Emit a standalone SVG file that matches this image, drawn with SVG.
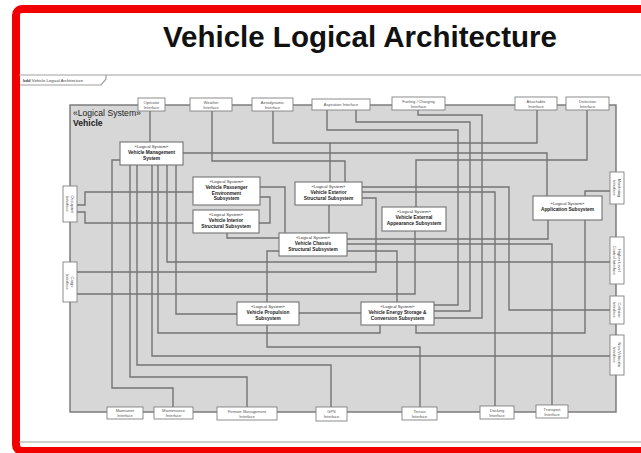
<svg xmlns="http://www.w3.org/2000/svg" width="641" height="453" viewBox="0 0 641 453">
<style>
  text{font-family:"Liberation Sans",Arial,sans-serif}
  .title{font-size:29.5px;font-weight:bold;fill:#111;text-anchor:middle}
  .frame{fill:none;stroke:#a0a0a0;stroke-width:1.2}
  .blk{fill:#d7d7d7;stroke:#747474;stroke-width:1.4}
  .box{fill:#fff;stroke:#747474;stroke-width:1.1}
  .ifc{fill:#fff;stroke:#808080;stroke-width:0.9}
  .st{font-size:4.3px;fill:#333;text-anchor:middle}
  .nm{font-size:4.8px;font-weight:bold;fill:#1a1a1a;text-anchor:middle}
  .it{font-size:4px;fill:#555;text-anchor:middle}
  .cn{fill:none;stroke:#747474;stroke-width:1.4}
</style>

<rect width="641" height="453" fill="#fff"/>
<rect x="16" y="9" width="650" height="442" rx="6" fill="none" stroke="#f20000" stroke-width="8"/>

<text class="title" x="360" y="47">Vehicle Logical Architecture</text>

<!-- bdd frame -->
<line class="frame" x1="19" y1="75" x2="641" y2="75"/>
<line class="frame" x1="19" y1="442" x2="641" y2="442"/>
<path class="frame" d="M20 85 H101 L106 79 V75" stroke-width="0.8"/>
<text x="23" y="82" font-size="4.2" fill="#444"><tspan font-weight="bold">bdd</tspan> Vehicle Logical Architecture</text>

<!-- Vehicle block -->
<g id="vehicle">
  <rect class="blk" x="70" y="105" width="546" height="307"/>
  <text x="73" y="116" font-size="8.6" fill="#222">«Logical System»</text>
  <text x="73" y="126" font-size="8.6" font-weight="bold" fill="#222">Vehicle</text>
</g>

<g id="connectors">
  <!-- Vehicle Management System -->
  <polyline class="cn" points="150,111 150,142"/>
  <polyline class="cn" points="120,160 112,160 112,388 173,388 173,407"/>
  <polyline class="cn" points="130,165 130,377 247,377 247,407"/>
  <polyline class="cn" points="137,165 137,365 331,365 331,407"/>
  <polyline class="cn" points="152,165 152,356 610,356"/>
  <polyline class="cn" points="158,165 158,333 380,333 380,325"/>
  <polyline class="cn" points="167,165 167,262 610,262"/>
  <polyline class="cn" points="176,165 176,314 237,314"/>
  <polyline class="cn" points="183,153 547,153 547,196"/>
  <!-- top interfaces -->
  <polyline class="cn" points="212,111 212,161 345,161 345,182"/>
  <polyline class="cn" points="273,111 273,143 330,143 330,182"/>
  <polyline class="cn" points="537,110 537,143 330,143"/>
  <polyline class="cn" points="587,110 587,160 416,160 416,207"/>
  <polyline class="cn" points="327,110 327,130 458,130 458,305 434,305"/>
  <polyline class="cn" points="356,110 356,122 470,122 470,311 434,311"/>
  <polyline class="cn" points="418,110 418,115 482,115 482,318 434,318"/>
  <!-- exterior structural -->
  <polyline class="cn" points="362,187 509,187 509,310 610,310"/>
  <polyline class="cn" points="362,192 495,192 495,406"/>
  <polyline class="cn" points="362,198 376,198 376,272 77,272"/>
  <polyline class="cn" points="329,205 329,233"/>
  <!-- passenger / interior -->
  <polyline class="cn" points="260,187 285,187 285,233"/>
  <polyline class="cn" points="260,197 270,197 270,223 259,223"/>
  <polyline class="cn" points="227,233 227,238 279,238"/>
  <polyline class="cn" points="77,205 85,205 85,192 193,192"/>
  <polyline class="cn" points="77,212 85,212 85,223 193,223"/>
  <!-- external appearance -->
  <polyline class="cn" points="415,231 415,294 77,294"/>
  <!-- chassis -->
  <polyline class="cn" points="347,239 548,239 548,220"/>
  <polyline class="cn" points="347,244 552,244 552,405"/>
  <polyline class="cn" points="347,251 397,251 397,302"/>
  <polyline class="cn" points="279,251 267,251 267,302"/>
  <!-- application -->
  <polyline class="cn" points="585,196 585,191 610,191"/>
  <polyline class="cn" points="585,220 585,333 416,333 416,325"/>
  <!-- propulsion -->
  <polyline class="cn" points="299,313 361,313"/>
  <polyline class="cn" points="267,325 267,347 420,347 420,407"/>
</g>

<!-- logical subsystems -->
<g id="vms">
  <rect class="box" x="120" y="142" width="63" height="23"/>
  <text class="st" x="151.5" y="148">«Logical System»</text>
  <text class="nm" x="151.5" y="154">Vehicle Management</text>
  <text class="nm" x="151.5" y="160">System</text>
</g>
<g id="vpe">
  <rect class="box" x="193" y="177" width="67" height="28"/>
  <text class="st" x="226.5" y="183">«Logical System»</text>
  <text class="nm" x="226.5" y="189">Vehicle Passenger</text>
  <text class="nm" x="226.5" y="194.5">Environment</text>
  <text class="nm" x="226.5" y="200">Subsystem</text>
</g>
<g id="vis">
  <rect class="box" x="193" y="210" width="66" height="23"/>
  <text class="st" x="226" y="216">«Logical System»</text>
  <text class="nm" x="226" y="222">Vehicle Interior</text>
  <text class="nm" x="226" y="228">Structural Subsystem</text>
</g>
<g id="ves">
  <rect class="box" x="295" y="182" width="67" height="23"/>
  <text class="st" x="328.5" y="188">«Logical System»</text>
  <text class="nm" x="328.5" y="194">Vehicle Exterior</text>
  <text class="nm" x="328.5" y="200">Structural Subsystem</text>
</g>
<g id="vea">
  <rect class="box" x="382" y="207" width="64" height="24"/>
  <text class="st" x="414" y="213">«Logical System»</text>
  <text class="nm" x="414" y="219">Vehicle External</text>
  <text class="nm" x="414" y="225">Appearance Subsystem</text>
</g>
<g id="vcs">
  <rect class="box" x="279" y="233" width="68" height="23"/>
  <text class="st" x="313" y="239">«Logical System»</text>
  <text class="nm" x="313" y="245">Vehicle Chassis</text>
  <text class="nm" x="313" y="251">Structural Subsystem</text>
</g>
<g id="app">
  <rect class="box" x="533" y="196" width="69" height="24"/>
  <text class="st" x="567.5" y="205">«Logical System»</text>
  <text class="nm" x="567.5" y="211">Application Subsystem</text>
</g>
<g id="vp">
  <rect class="box" x="237" y="302" width="62" height="23"/>
  <text class="st" x="268" y="308">«Logical System»</text>
  <text class="nm" x="268" y="314">Vehicle Propulsion</text>
  <text class="nm" x="268" y="320">Subsystem</text>
</g>
<g id="vesc">
  <rect class="box" x="361" y="302" width="73" height="23"/>
  <text class="st" x="397.5" y="308">«Logical System»</text>
  <text class="nm" x="397.5" y="314">Vehicle Energy Storage &amp;</text>
  <text class="nm" x="397.5" y="320">Conversion Subsystem</text>
</g>

<!-- interfaces on the top edge -->
<g id="if-operator"><rect class="ifc" x="138" y="98" width="27" height="13"/><text class="it" x="151.5" y="103.5">Operator</text><text class="it" x="151.5" y="108.5">Interface</text></g>
<g id="if-weather"><rect class="ifc" x="190" y="98" width="42" height="13"/><text class="it" x="211" y="103.5">Weather</text><text class="it" x="211" y="108.5">Interface</text></g>
<g id="if-aero"><rect class="ifc" x="252" y="98" width="41" height="13"/><text class="it" x="272.5" y="103.5">Aerodynamic</text><text class="it" x="272.5" y="108.5">Interface</text></g>
<g id="if-aspiration"><rect class="ifc" x="312" y="99" width="58" height="11"/><text class="it" x="341" y="106">Aspiration Interface</text></g>
<g id="if-fueling"><rect class="ifc" x="392" y="97" width="53" height="13"/><text class="it" x="418.5" y="102.5">Fueling / Charging</text><text class="it" x="418.5" y="107.5">Interface</text></g>
<g id="if-attachable"><rect class="ifc" x="515" y="97" width="42" height="13"/><text class="it" x="536" y="102.5">Attachable</text><text class="it" x="536" y="107.5">Interface</text></g>
<g id="if-detection"><rect class="ifc" x="566" y="97" width="43" height="13"/><text class="it" x="587.5" y="102.5">Detection</text><text class="it" x="587.5" y="107.5">Interface</text></g>

<!-- interfaces on the bottom edge -->
<g id="if-maintainer"><rect class="ifc" x="107" y="407" width="36" height="12"/><text class="it" x="125" y="412">Maintainer</text><text class="it" x="125" y="417">Interface</text></g>
<g id="if-maintenance"><rect class="ifc" x="154" y="407" width="39" height="12"/><text class="it" x="173.5" y="412">Maintenance</text><text class="it" x="173.5" y="417">Interface</text></g>
<g id="if-remote"><rect class="ifc" x="217" y="407" width="60" height="13"/><text class="it" x="247" y="412.5">Remote Management</text><text class="it" x="247" y="417.5">Interface</text></g>
<g id="if-gps"><rect class="ifc" x="316" y="407" width="31" height="14"/><text class="it" x="331.5" y="413">GPS</text><text class="it" x="331.5" y="418">Interface</text></g>
<g id="if-terrain"><rect class="ifc" x="402" y="407" width="35" height="13"/><text class="it" x="419.5" y="412.5">Terrain</text><text class="it" x="419.5" y="417.5">Interface</text></g>
<g id="if-docking"><rect class="ifc" x="480" y="406" width="34" height="13"/><text class="it" x="497" y="411.5">Docking</text><text class="it" x="497" y="416.5">Interface</text></g>
<g id="if-transport"><rect class="ifc" x="536" y="405" width="32" height="13"/><text class="it" x="552" y="410.5">Transport</text><text class="it" x="552" y="415.5">Interface</text></g>

<!-- interfaces on the left edge -->
<g id="if-occupant"><rect class="ifc" x="63" y="186" width="14" height="36"/>
  <g transform="translate(70,204) rotate(90)"><text class="it" x="0" y="-0.5">Occupant</text><text class="it" x="0" y="4">Interface</text></g></g>
<g id="if-cargo"><rect class="ifc" x="63" y="262" width="14" height="40"/>
  <g transform="translate(70,282) rotate(90)"><text class="it" x="0" y="-0.5">Cargo</text><text class="it" x="0" y="4">Interface</text></g></g>

<!-- interfaces on the right edge -->
<g id="if-monitoring"><rect class="ifc" x="610" y="172" width="14" height="32"/>
  <g transform="translate(617,188) rotate(90)"><text class="it" x="0" y="-0.5">Monitoring</text><text class="it" x="0" y="4">Interface</text></g></g>
<g id="if-control"><rect class="ifc" x="610" y="237" width="14" height="47"/>
  <g transform="translate(617,260.5) rotate(90)"><text class="it" x="0" y="-0.5">Higher Level</text><text class="it" x="0" y="4">Control Interface</text></g></g>
<g id="if-collision"><rect class="ifc" x="610" y="296" width="14" height="28"/>
  <g transform="translate(617,310) rotate(90)"><text class="it" x="0" y="-0.5">Collision</text><text class="it" x="0" y="4">Interface</text></g></g>
<g id="if-nonvehicular"><rect class="ifc" x="610" y="335" width="14" height="40"/>
  <g transform="translate(617,355) rotate(90)"><text class="it" x="0" y="-0.5">Non-Vehicular</text><text class="it" x="0" y="4">Interface</text></g></g>
</svg>
